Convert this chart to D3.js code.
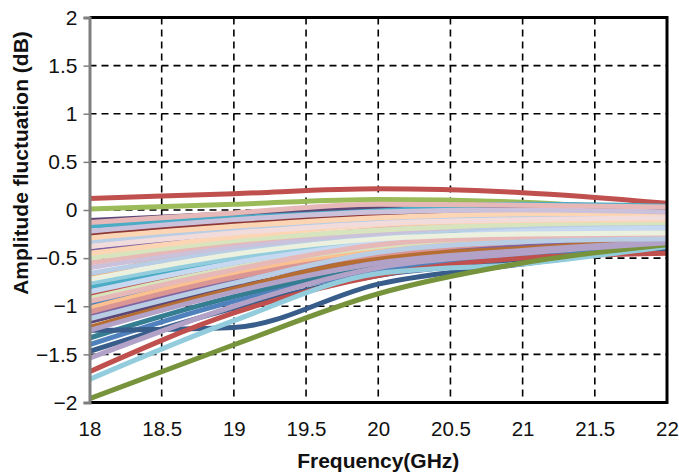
<!DOCTYPE html>
<html>
<head>
<meta charset="utf-8">
<script src="https://cdn.jsdelivr.net/npm/d3@7"></script>
<style>
  body { margin: 0; background: #fff; }
  text { font-family: "Liberation Sans", Arial, sans-serif; fill: #111; }
</style>
</head>
<body>
<div id="chart"></div>
<script>
// frequencies where each trace was sampled (GHz)
const freqs = [18, 19, 20, 21, 22];

const xTicks = [18, 18.5, 19, 19.5, 20, 20.5, 21, 21.5, 22];
const yTicks = [-2, -1.5, -1, -0.5, 0, 0.5, 1, 1.5, 2];

// amplitude fluctuation (dB) per trace, drawing order
const traces = [
  [0.12, 0.17, 0.22, 0.18, 0.07],
  [0.01, 0.06, 0.11, 0.08, -0.02],
  [-0.11, -0.04, 0.02, 0.03, 0.01],
  [-0.25, -0.13, -0.06, -0.03, -0.04],
  [-0.17, -0.08, -0.01, 0.06, 0.04],
  [-0.43, -0.26, -0.12, -0.06, -0.05],
  [-0.7, -0.42, -0.4, -0.24, -0.2],
  [-0.8, -0.54, -0.3, -0.2, -0.17],
  [-0.88, -0.58, -0.4, -0.28, -0.24],
  [-0.98, -0.68, -0.46, -0.36, -0.3],
  [-1.1, -0.74, -0.5, -0.38, -0.33],
  [-1.16, -0.8, -0.55, -0.42, -0.35],
  [-1.22, -0.82, -0.5, -0.4, -0.31],
  [-1.33, -0.9, -0.6, -0.46, -0.37],
  [-1.4, -0.95, -0.64, -0.5, -0.4],
  [-1.25, -1.22, -0.77, -0.56, -0.38],
  [-1.47, -1.02, -0.68, -0.53, -0.4],
  [-1.68, -1.07, -0.68, -0.5, -0.45],
  [-1.76, -1.15, -0.66, -0.56, -0.38],
  [-1.96, -1.4, -0.87, -0.55, -0.36],
  [-1.54, -1.0, -0.6, -0.45, -0.34],
  [-1.02, -0.66, -0.42, -0.3, -0.25],
  [-1.06, -0.7, -0.46, -0.33, -0.27],
  [-1.25, -0.85, -0.55, -0.42, -0.33],
  [-0.92, -0.6, -0.38, -0.26, -0.22],
  [-0.76, -0.5, -0.32, -0.22, -0.19],
  [-0.66, -0.42, -0.26, -0.18, -0.15],
  [-0.6, -0.38, -0.24, -0.14, -0.1],
  [-0.55, -0.34, -0.2, -0.1, -0.08],
  [-0.5, -0.32, -0.21, -0.15, -0.13],
  [-0.33, -0.2, -0.1, -0.07, -0.06],
  [-0.29, -0.17, -0.08, -0.04, -0.04],
  [-0.22, -0.1, -0.02, 0.0, -0.02],
  [-0.13, -0.03, 0.06, 0.05, 0.03],
  [-0.85, -0.55, -0.34, -0.22, -0.19],
  [-0.45, -0.28, -0.15, -0.11, -0.1],
  [-0.95, -0.62, -0.36, -0.28, -0.26],
  [-1.13, -0.76, -0.44, -0.33, -0.3],
  [-0.38, -0.24, -0.14, -0.1, -0.08],
  [-0.72, -0.46, -0.3, -0.25, -0.24]
];

const traceColors = [
  "#C0504D", "#9BBB59", "#5C4776", "#8C3836", "#4BACC6", "#8064A2",
  "#F79646", "#4BACC6", "#C0504D", "#4F81BD", "#8064A2", "#5C4776",
  "#B66D31", "#357D91", "#4F81BD", "#385D8A", "#385D8A", "#C0504D",
  "#93CDDD", "#77933C", "#B3A2C7", "#FAC090", "#D99694", "#B3A2C7",
  "#D7E4BD", "#93CDDD", "#B9CDE5", "#CCC1DA", "#E6B9B8", "#D7E4BD",
  "#B9CDE5", "#FCD5B5", "#CCC1DA", "#E6B9B8", "#C6D9F1", "#FCD5B5",
  "#E6B9B8", "#B9CDE5", "#F2DCDB", "#EBF1DE"
];

var margin = {top: 17.5, right: 12, bottom: 72.5, left: 89.5},
    width = 679 - margin.left - margin.right,
    height = 475 - margin.top - margin.bottom;

var x = d3.scaleLinear().domain([18, 22]).range([0, width]);
var y = d3.scaleLinear().domain([-2, 2]).range([height, 0]);

var svg = d3.select("#chart").append("svg")
    .attr("width", 679)
    .attr("height", 475)
  .append("g")
    .attr("transform", "translate(" + margin.left + "," + margin.top + ")");

// dashed grid
svg.append("g").selectAll("line")
    .data(xTicks.slice(1, -1))
    .enter().append("line")
    .attr("x1", d => x(d)).attr("x2", d => x(d))
    .attr("y1", 0).attr("y2", height)
    .attr("stroke", "#000").attr("stroke-width", 1.6)
    .attr("stroke-dasharray", "7,5");

svg.append("g").selectAll("line")
    .data(yTicks.slice(1, -1))
    .enter().append("line")
    .attr("x1", 0).attr("x2", width)
    .attr("y1", d => y(d)).attr("y2", d => y(d))
    .attr("stroke", "#000").attr("stroke-width", 1.6)
    .attr("stroke-dasharray", "7,5");

// traces
var line = d3.line()
    .x((d, i) => x(freqs[i]))
    .y(d => y(d))
    .curve(d3.curveMonotoneX);

svg.append("g")
    .selectAll("path")
    .data(traces)
    .enter().append("path")
    .attr("d", line)
    .attr("fill", "none")
    .attr("stroke", (d, i) => traceColors[i])
    .attr("stroke-width", 5)
    .attr("stroke-linejoin", "round");

// frame: top, right, bottom black
svg.append("path")
    .attr("d", "M0,0H" + width + "V" + height + "H0")
    .attr("fill", "none")
    .attr("stroke", "#000")
    .attr("stroke-width", 3);

// y axis (gray)
var yAxis = svg.append("g")
    .call(d3.axisLeft(y).tickValues(yTicks).tickSize(6).tickPadding(6)
      .tickFormat(d3.format("")));
yAxis.select(".domain").attr("stroke", "#7f7f7f").attr("stroke-width", 3);
yAxis.selectAll(".tick line").attr("stroke", "#7f7f7f").attr("stroke-width", 1.5);
yAxis.selectAll("text")
    .style("font-size", "21px")
    .style("font-family", "'Liberation Sans', Arial, sans-serif")
    .attr("fill", "#111");

// x axis labels
var xAxis = svg.append("g")
    .attr("transform", "translate(0," + height + ")")
    .call(d3.axisBottom(x).tickValues(xTicks).tickSize(0).tickPadding(19)
      .tickFormat(d3.format("")));
xAxis.select(".domain").remove();
xAxis.selectAll("text")
    .style("font-size", "20.5px")
    .style("font-family", "'Liberation Sans', Arial, sans-serif")
    .attr("fill", "#111");

// axis titles
svg.append("text")
    .attr("x", width / 2)
    .attr("y", height + 65)
    .attr("text-anchor", "middle")
    .style("font-size", "21px")
    .style("font-weight", "bold")
    .text("Frequency(GHz)");

svg.append("text")
    .attr("transform", "translate(" + (-margin.left + 28) + "," + (163 - margin.top) + ") rotate(-90)")
    .attr("text-anchor", "middle")
    .style("font-size", "21px")
    .style("font-weight", "bold")
    .text("Amplitude fluctuation (dB)");
</script>
</body>
</html>
